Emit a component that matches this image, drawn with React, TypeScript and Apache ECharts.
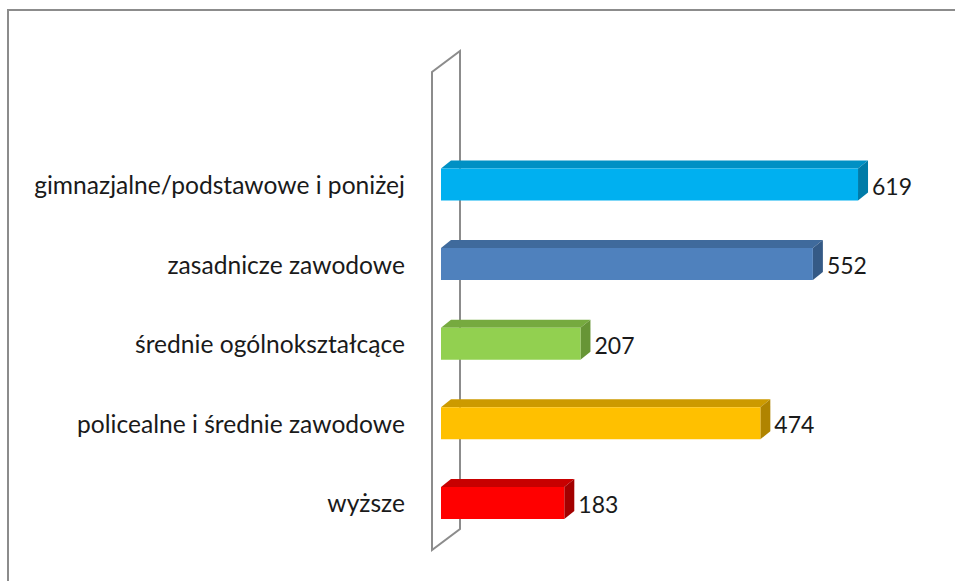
import React, { useEffect, useRef } from "react";
import * as echarts from "echarts";

const categories = [
  "gimnazjalne/podstawowe i poniżej",
  "zasadnicze zawodowe",
  "średnie ogólnokształcące",
  "policealne i średnie zawodowe",
  "wyższe",
];
const values = [619, 552, 207, 474, 183];
const frontColors = ["#00B0F0", "#4F81BD", "#92D050", "#FFC000", "#FF0000"];
const topColors = ["#0090C4", "#3F6A9C", "#76AA3F", "#CC9A00", "#C80000"];
const sideColors = ["#007BA8", "#355A86", "#679536", "#B08400", "#A30000"];

const FONT = "Lato";

export default function App() {
  const ref = useRef<HTMLDivElement>(null);
  useEffect(() => {
    if (!ref.current) return;
    const chart = echarts.init(ref.current, undefined, { renderer: "svg" });
    const dx = 10;
    const dy = 8;
    const barH = 32;
    chart.setOption({
      animation: false,
      backgroundColor: "#ffffff",
      grid: { left: 441, right: 42.4, top: 144.7, bottom: 38.3, containLabel: false },
      xAxis: { type: "value", min: 0, max: 700, show: false },
      yAxis: {
        type: "category",
        inverse: true,
        data: categories,
        axisLine: { show: false },
        axisTick: { show: false },
        splitLine: { show: false },
        axisLabel: {
          margin: 36,
          fontFamily: FONT,
          fontSize: 24.6,
          color: "#1a1a1a",
        },
      },
      graphic: [
        {
          type: "rect",
          z: 0,
          silent: true,
          shape: { x: 8, y: 10, width: 1200, height: 1000 },
          style: { fill: "none", stroke: "#8c8c8c", lineWidth: 2 },
        },
        {
          type: "polygon",
          z: 0,
          silent: true,
          shape: {
            points: [
              [432, 550],
              [432, 72],
              [460, 51],
              [460, 529],
            ],
          },
          style: { fill: "none", stroke: "#8c8c8c", lineWidth: 2 },
        },
      ],
      series: [
        {
          type: "custom",
          z: 5,
          data: values.map((v, i) => [v, i]),
          encode: { x: 0, y: 1 },
          renderItem: (params: any, api: any) => {
            const idx = params.dataIndex;
            const v = api.value(0);
            const c = api.value(1);
            const p0 = api.coord([0, c]);
            const p1 = api.coord([v, c]);
            const x0 = p0[0];
            const x1 = p1[0];
            const yc = p0[1];
            const yT = yc - barH / 2;
            const yB = yc + barH / 2;
            return {
              type: "group",
              children: [
                {
                  type: "polygon",
                  shape: {
                    points: [
                      [x0, yT],
                      [x0 + dx, yT - dy],
                      [x1 + dx, yT - dy],
                      [x1, yT],
                    ],
                  },
                  style: { fill: topColors[idx] },
                },
                {
                  type: "polygon",
                  shape: {
                    points: [
                      [x1, yT],
                      [x1 + dx, yT - dy],
                      [x1 + dx, yB - dy],
                      [x1, yB],
                    ],
                  },
                  style: { fill: sideColors[idx] },
                },
                {
                  type: "rect",
                  shape: { x: x0, y: yT, width: x1 - x0, height: barH },
                  style: { fill: frontColors[idx] },
                },
                {
                  type: "text",
                  x: x1 + dx + 4,
                  y: yc + 1,
                  style: {
                    text: String(v),
                    fontFamily: FONT,
                    fontSize: 23,
                    fill: "#1a1a1a",
                    verticalAlign: "middle",
                    align: "left",
                  },
                },
              ],
            };
          },
        },
      ],
    });
    return () => chart.dispose();
  }, []);
  return (
    <div
      ref={ref}
      style={{ position: "fixed", left: 0, top: 0, width: 955, height: 581 }}
    />
  );
}
